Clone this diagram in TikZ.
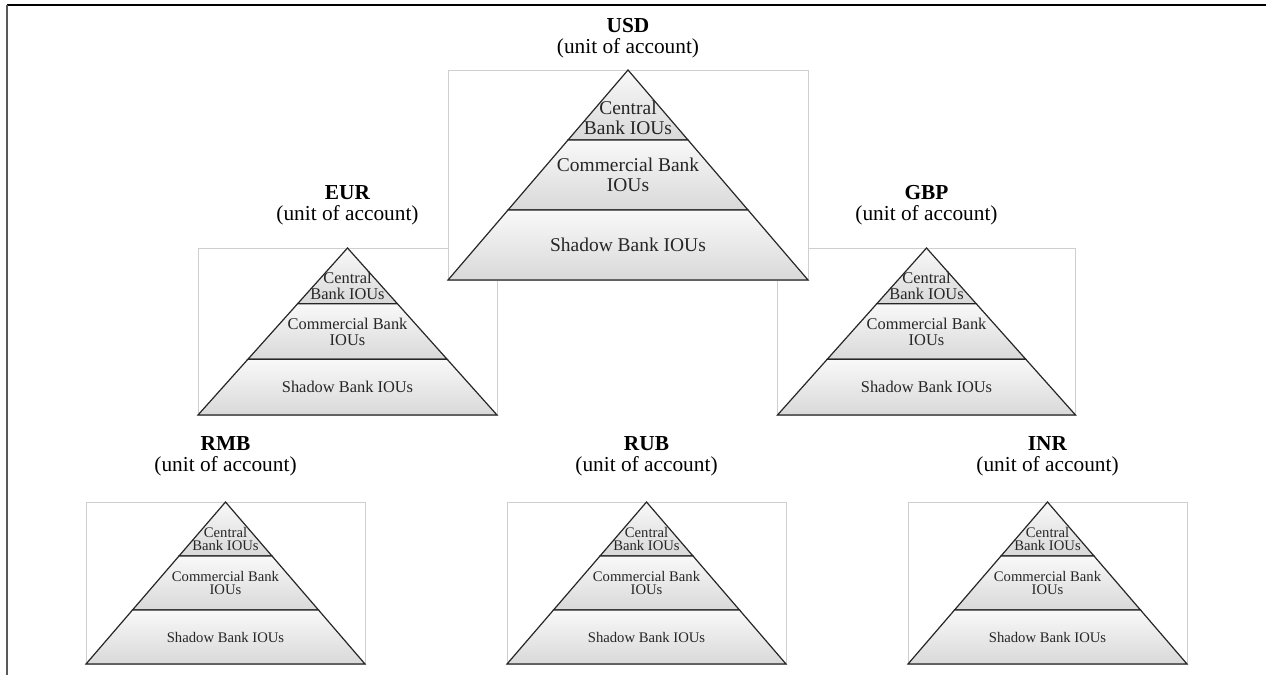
\documentclass[tikz,border=0pt]{standalone}
\usepackage{fontspec}
\setmainfont{Liberation Serif}
\newcommand{\drawpyramid}[8]{% #1 name, #2 cx, #3 ytop, #4 halfw, #5 height, #6 font size, #7 skip
  \pgfmathsetmacro{\pxa}{#2-#4}\pgfmathsetmacro{\pxb}{#2+#4}%
  \pgfmathsetmacro{\pya}{#3+#5/3}\pgfmathsetmacro{\pyb}{#3+2*#5/3}\pgfmathsetmacro{\pyc}{#3+#5}%
  \pgfmathsetmacro{\pxaa}{#2-#4/3}\pgfmathsetmacro{\pxab}{#2+#4/3}%
  \pgfmathsetmacro{\pxba}{#2-2*#4/3}\pgfmathsetmacro{\pxbb}{#2+2*#4/3}%
  \pgfmathsetmacro{\pyt}{#3+0.68*#5/3}\pgfmathsetmacro{\pym}{#3+#5/2}\pgfmathsetmacro{\pys}{#3+5*#5/6}%
  \draw[framebox] (\pxa,#3) rectangle (\pxb,\pyc);
  \draw[band] (#2,#3) -- (\pxab,\pya) -- (\pxaa,\pya) -- cycle;
  \draw[band] (\pxaa,\pya) -- (\pxab,\pya) -- (\pxbb,\pyb) -- (\pxba,\pyb) -- cycle;
  \draw[band] (\pxba,\pyb) -- (\pxbb,\pyb) -- (\pxb,\pyc) -- (\pxa,\pyc) -- cycle;
  \node[ptext, font=\fontsize{#6}{#7}\selectfont] (#1-central) at (#2,\pyt) {Central\\Bank IOUs};
  \node[ptext, font=\fontsize{#6}{#7}\selectfont] (#1-commercial) at (#2,\pym) {Commercial Bank\\IOUs};
  \node[ptext, font=\fontsize{#6}{#7}\selectfont] (#1-shadow) at (#2,\pys) {Shadow Bank IOUs};
  \node[lbl] (#1-label) at (#2,#8) {\textbf{\MakeUppercase{#1}}\\(unit of account)};
}
\begin{document}
\begin{tikzpicture}[x=0.75pt,y=-0.75pt,
  framebox/.style={draw=gray!38, line width=0.6pt, fill=white},
  band/.style={draw=black!85, line width=0.9pt, top color=gray!5, bottom color=gray!30},
  ptext/.style={align=center, inner sep=0pt, text=black!85},
  lbl/.style={align=center, inner sep=0pt, text=black, font=\fontsize{16}{15.5}\selectfont},
  frameline/.style={line width=1.5pt}
]
\useasboundingbox (0,0) rectangle (1266,675);
\coordinate (tl) at (7,5);
\coordinate (tr) at (1266,5);
\coordinate (bl) at (7,675);
\draw[frameline, black] (tl) -- (tr);
\draw[frameline, black!65] (tl) -- (bl);

\drawpyramid{eur}{347.5}{248}{149.5}{167}{12.3}{12}{205}
\drawpyramid{gbp}{926.5}{248}{149}{167}{12.3}{12}{205}
\drawpyramid{usd}{628}{70}{180}{210}{14.6}{15}{38}
\drawpyramid{rmb}{225.5}{502}{139.5}{162}{11}{9.8}{456.5}
\drawpyramid{rub}{646.5}{502}{139.5}{162}{11}{9.8}{456.5}
\drawpyramid{inr}{1047.5}{502}{139.5}{162}{11}{9.8}{456.5}
\end{tikzpicture}
\end{document}
